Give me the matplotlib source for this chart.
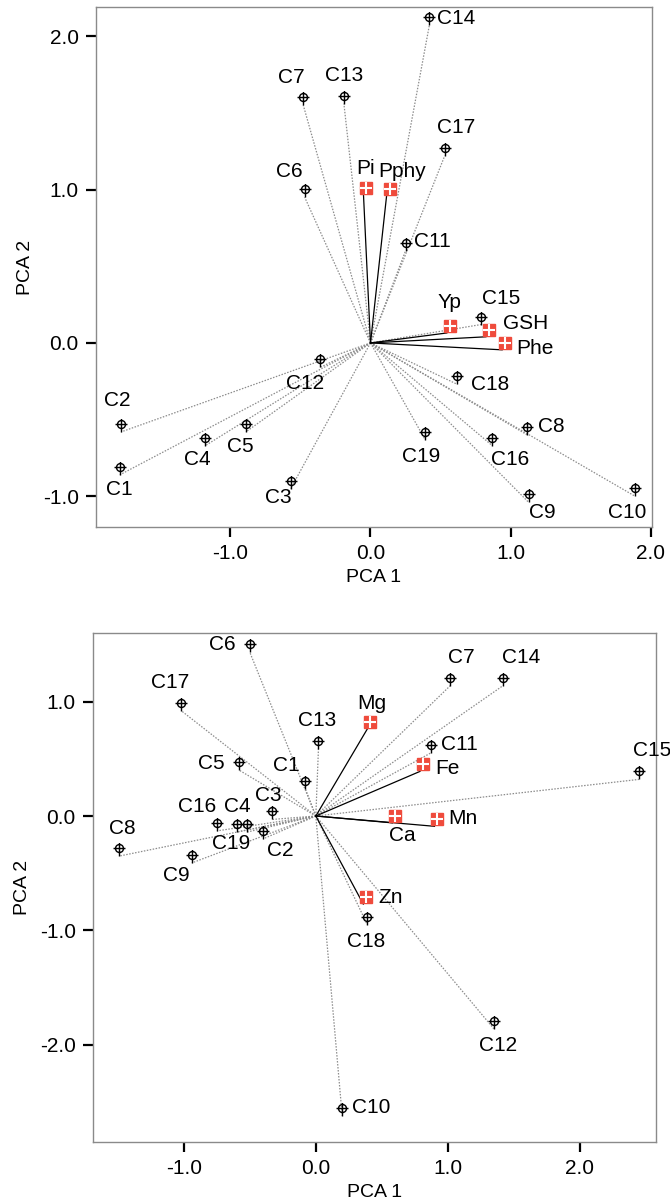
import numpy as np
import matplotlib
matplotlib.use("Agg")
import matplotlib.pyplot as plt
from matplotlib.path import Path
from matplotlib.transforms import offset_copy

plt.rcParams['font.family'] = ['Liberation Sans', 'DejaVu Sans']

# ---- panel 1: cases and variables (PCA 1 / PCA 2)
cases1 = ['C1', 'C2', 'C3', 'C4', 'C5', 'C6', 'C7', 'C8', 'C9', 'C10',
          'C11', 'C12', 'C13', 'C14', 'C15', 'C16', 'C17', 'C18', 'C19']
pc1_a = [-1.79, -1.78, -0.57, -1.18, -0.89, -0.47, -0.48, 1.12, 1.13, 1.89,
         0.25, -0.36, -0.19, 0.42, 0.79, 0.87, 0.53, 0.62, 0.39]
pc2_a = [-0.86, -0.58, -0.95, -0.67, -0.58, 0.95, 1.55, -0.60, -1.04, -1.00,
         0.60, -0.16, 1.56, 2.07, 0.12, -0.67, 1.22, -0.27, -0.63]
vars1 = ['Pi', 'Pphy', 'Yp', 'GSH', 'Phe']
vx1 = [-0.05, 0.115, 0.545, 0.824, 0.94]
vy1 = [0.965, 0.96, 0.065, 0.04, -0.045]

# ---- panel 2: cases and minerals
cases2 = ['C1', 'C2', 'C3', 'C4', 'C5', 'C6', 'C7', 'C8', 'C9', 'C10',
          'C11', 'C12', 'C13', 'C14', 'C15', 'C16', 'C17', 'C18', 'C19']
pc1_b = [-0.08, -0.40, -0.33, -0.60, -0.58, -0.50, 1.02, -1.49, -0.94, 0.20,
         0.87, 1.35, 0.02, 1.42, 2.45, -0.75, -1.02, 0.39, -0.52]
pc2_b = [0.24, -0.20, -0.03, -0.14, 0.40, 1.43, 1.14, -0.35, -0.41, -2.62,
         0.55, -1.86, 0.59, 1.14, 0.32, -0.13, 0.92, -0.95, -0.14]
vars2 = ['Mg', 'Fe', 'Ca', 'Mn', 'Zn']
vx2 = [0.39, 0.79, 0.58, 0.90, 0.36]
vy2 = [0.76, 0.39, -0.06, -0.09, -0.77]

ticks_x1 = [-1.0, 0.0, 1.0, 2.0]
ticks_y1 = [-1.0, 0.0, 1.0, 2.0]
ticks_x2 = [-1.0, 0.0, 1.0, 2.0]
ticks_y2 = [-2.0, -1.0, 0.0, 1.0]

# label offsets in pixels (layout only)
off1 = {'C1': (0, -15), 'C2': (-4, 31), 'C3': (-12, -9), 'C4': (-8, -14),
        'C5': (-6, -15), 'C6': (-15, 26), 'C7': (-12, 28), 'C8': (24, 8),
        'C9': (14, -10), 'C10': (-8, -16), 'C11': (27, 9), 'C12': (-15, -16),
        'C13': (0, 28), 'C14': (27, 7), 'C15': (20, 26), 'C16': (18, -14),
        'C17': (11, 28), 'C18': (33, 0), 'C19': (-4, -17),
        'Pi': (2, 26), 'Pphy': (16, 24), 'Yp': (3, 30), 'GSH': (40, 13),
        'Phe': (33, 1)}
off2 = {'C1': (-19, 23), 'C2': (17, -12), 'C3': (-4, 24), 'C4': (1, 26),
        'C5': (-28, 7), 'C6': (-28, 8), 'C7': (11, 28), 'C8': (3, 28),
        'C9': (-16, -13), 'C10': (29, 8), 'C11': (29, 9), 'C12': (4, -17),
        'C13': (-1, 28), 'C14': (18, 28), 'C15': (13, 29), 'C16': (-20, 24),
        'C17': (-11, 28), 'C18': (-1, -17), 'C19': (-16, -11),
        'Mg': (5, 26), 'Fe': (27, 3), 'Ca': (10, -13), 'Mn': (28, 8),
        'Zn': (27, 7)}

# case marker: circle with cross, stem hanging down to the point
circ = Path.circle((0, 8), 4.0)
lines = Path([(-6, 8), (6, 8), (0, 0), (0, 13.5)],
             [Path.MOVETO, Path.LINETO, Path.MOVETO, Path.LINETO])
case_marker = Path.make_compound_path(circ, lines)

fig = plt.figure(figsize=(6.70, 12.03), dpi=100)


def panel(ax, cx, cy, cnames, vx, vy, vnames, offs, xlim, ylim, xt, yt):
    for x, y in zip(cx, cy):
        ax.plot([0, x], [0, y], ls=(0, (1.2, 1.2)), color='#8c8c8c', lw=0.9, zorder=1)
    for x, y in zip(vx, vy):
        ax.plot([0, x], [0, y], color='black', lw=0.9, zorder=2)
    ax.plot(cx, cy, ls='none', marker=case_marker, ms=19.4, mfc='none',
            mec='black', mew=1.0, zorder=3)
    shifted = offset_copy(ax.transData, fig=fig, x=3, y=7, units='dots')
    ax.plot(vx, vy, ls='none', marker='s', ms=8.5, color='#ef4b3c',
            transform=shifted, zorder=4)
    ax.plot(vx, vy, ls='none', marker='+', ms=8.5, mec='white', mew=1.5,
            transform=shifted, zorder=5)
    for names, xs, ys in ((cnames, cx, cy), (vnames, vx, vy)):
        for n, x, y in zip(names, xs, ys):
            dx, dy = offs[n]
            ax.annotate(n, (x, y), xytext=(dx, dy), textcoords='offset pixels',
                        ha='center', va='center', fontsize=15)
    ax.set_xlim(*xlim)
    ax.set_ylim(*ylim)
    ax.set_xticks(xt)
    ax.set_yticks(yt)
    ax.set_xticklabels(['%.1f' % t for t in xt])
    ax.set_yticklabels(['%.1f' % t for t in yt])
    ax.tick_params(direction='out', length=7.5, width=1.6, labelsize=15,
                   color='black', pad=5)
    for s in ax.spines.values():
        s.set_color('#8a8a8a')
        s.set_linewidth(1.0)
    ax.set_xlabel('PCA 1', fontsize=14, labelpad=4)
    ax.set_ylabel('PCA 2', fontsize=14, labelpad=6)


ax1 = fig.add_axes([96 / 670, 1 - 527 / 1203, 556 / 670, 520 / 1203])
panel(ax1, pc1_a, pc2_a, cases1, vx1, vy1, vars1, off1,
      (-1.96, 2.01), (-1.20, 2.19), ticks_x1, ticks_y1)

ax2 = fig.add_axes([93 / 670, 1 - 1142 / 1203, 563 / 670, 509 / 1203])
panel(ax2, pc1_b, pc2_b, cases2, vx2, vy2, vars2, off2,
      (-1.69, 2.58), (-2.85, 1.60), ticks_x2, ticks_y2)

fig.savefig('out.png', dpi=100)
